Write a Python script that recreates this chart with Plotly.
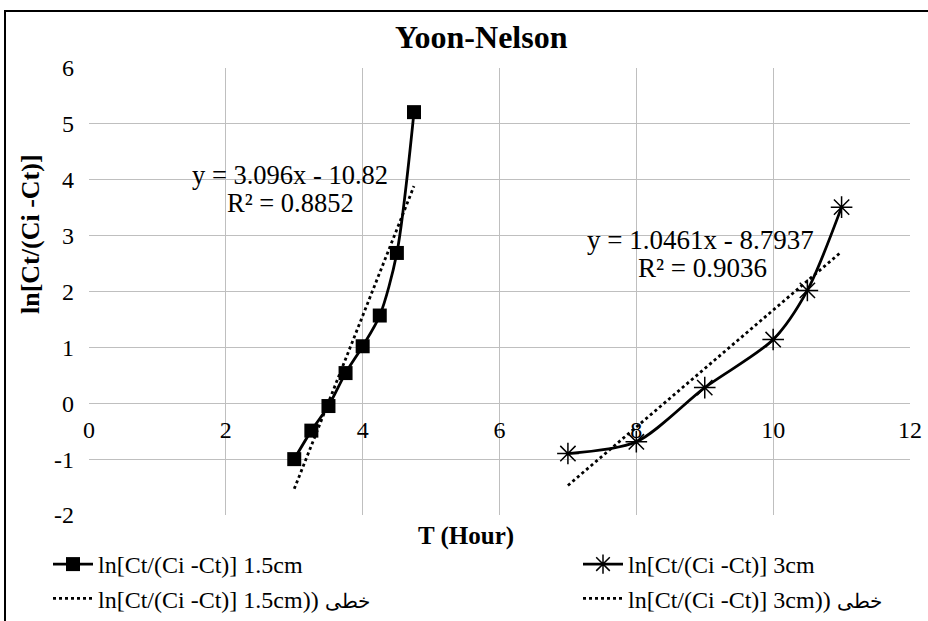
import plotly.graph_objects as go

# Breakthrough data, Yoon-Nelson linearisation
t_15 = [3.0, 3.25, 3.5, 3.75, 4.0, 4.25, 4.5, 4.75]
ln_15 = [-1.0, -0.49, -0.05, 0.54, 1.02, 1.57, 2.69, 5.21]

t_3 = [7.0, 8.0, 9.0, 10.0, 10.5, 11.0]
ln_3 = [-0.90, -0.69, 0.28, 1.14, 2.02, 3.51]

# Linear fit coefficients (slope, intercept, R²)
fit_15 = (3.096, -10.82, 0.8852)
fit_3 = (1.0461, -8.7937, 0.9036)

name_15 = "ln[Ct/(Ci -Ct)] 1.5cm"
name_3 = "ln[Ct/(Ci -Ct)] 3cm"
linear_word = "خطی"
trend_15 = f"ln[Ct/(Ci -Ct)] 1.5cm)) <span style='font-size:20px'>{linear_word}</span>"
trend_3 = f"ln[Ct/(Ci -Ct)] 3cm)) <span style='font-size:20px'>{linear_word}</span>"

x_ticks = [0, 2, 4, 6, 8, 10, 12]
y_ticks = [-2, -1, 0, 1, 2, 3, 4, 5, 6]

FONT = "Liberation Serif, Times New Roman, serif"
W, H = 928, 621
L, R, T, B = 89, 18, 68, 106
PW, PH = W - L - R, H - T - B


def px(x):
    return (x - L) / PW


def py(y):
    return (H - B - y) / PH


def trend_xy(xs, fit):
    x0, x1 = min(xs), max(xs)
    return [x0, x1], [fit[0] * x0 + fit[1], fit[0] * x1 + fit[1]]


def eq_text(fit):
    return f"y = {fit[0]}x - {abs(fit[1])}"


fig = go.Figure()

fig.add_trace(go.Scatter(
    x=t_15, y=ln_15, name=name_15, mode="lines+markers",
    line=dict(color="black", width=2.8, shape="spline", smoothing=0.8),
    marker=dict(symbol="square", size=14, color="black"),
    legend="legend",
))
tx, ty = trend_xy(t_15, fit_15)
fig.add_trace(go.Scatter(
    x=tx, y=ty, name=trend_15, mode="lines",
    line=dict(color="black", width=2.8, dash="dot"),
    legend="legend",
))
fig.add_trace(go.Scatter(
    x=t_3, y=ln_3, name=name_3, mode="lines+markers",
    line=dict(color="black", width=2.8, shape="spline", smoothing=0.8),
    marker=dict(symbol="asterisk-open", size=18,
                line=dict(color="black", width=1.5)),
    legend="legend2",
))
tx, ty = trend_xy(t_3, fit_3)
fig.add_trace(go.Scatter(
    x=tx, y=ty, name=trend_3, mode="lines",
    line=dict(color="black", width=2.8, dash="dot"),
    legend="legend2",
))

grid = "#BFBFBF"
legend_style = dict(
    xanchor="left", yanchor="top", orientation="v",
    font=dict(size=24, family=FONT), bgcolor="rgba(0,0,0,0)",
    tracegroupgap=0, itemwidth=40,
)
fig.update_layout(
    width=W, height=H,
    margin=dict(l=L, r=R, t=T, b=B, autoexpand=False),
    paper_bgcolor="white", plot_bgcolor="white",
    font=dict(family=FONT, color="black", size=24),
    xaxis=dict(
        range=[0, 12], tickvals=x_ticks, ticktext=[str(v) for v in x_ticks],
        showgrid=True, gridcolor=grid, gridwidth=1, zeroline=False,
        showline=False, ticks="", anchor="free", position=0.25,
        ticklabelstandoff=10, tickfont=dict(size=24, family=FONT),
    ),
    yaxis=dict(
        range=[-2, 6], tickvals=y_ticks, ticktext=[str(v) for v in y_ticks],
        showgrid=True, gridcolor=grid, gridwidth=1, zeroline=False,
        showline=False, ticks="", ticklabelstandoff=14,
        tickfont=dict(size=24, family=FONT),
    ),
    legend=dict(x=px(48), y=py(542), **legend_style),
    legend2=dict(x=px(578), y=py(542), **legend_style),
    showlegend=True,
)

annotations = [
    dict(text="<b>Yoon-Nelson</b>", x=px(481), y=py(37), font=dict(size=32)),
    dict(text="<b>T (Hour)</b>", x=px(466), y=py(536), font=dict(size=25)),
    dict(text="<b>ln[Ct/(Ci -Ct)]</b>", x=px(31), y=py(234), font=dict(size=26),
         textangle=-90),
    dict(text=eq_text(fit_15), x=px(290), y=py(175), font=dict(size=26.5)),
    dict(text=f"R² = {fit_15[2]}", x=px(290), y=py(203), font=dict(size=26.5)),
    dict(text=eq_text(fit_3), x=px(700), y=py(240), font=dict(size=27)),
    dict(text=f"R² = {fit_3[2]}", x=px(702), y=py(268), font=dict(size=27)),
]
for a in annotations:
    fig.add_annotation(xref="paper", yref="paper", showarrow=False,
                       xanchor="center", yanchor="middle", **a)

# Chart frame (left and top edges fall inside the page)
fig.add_shape(type="rect", xref="paper", yref="paper",
              x0=px(5), x1=px(940), y0=py(640), y1=py(11),
              line=dict(color="black", width=2), layer="above")

fig.write_html("out.html")
